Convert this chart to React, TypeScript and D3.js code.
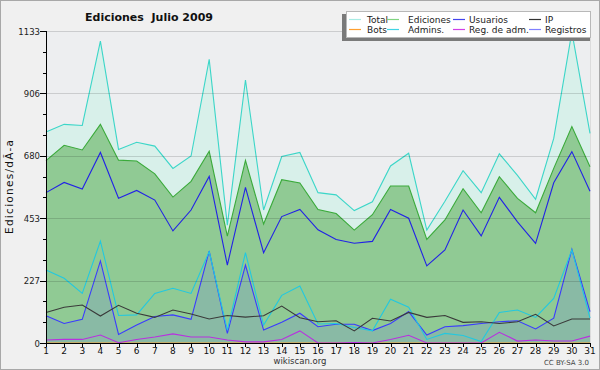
import React from "react";
import * as d3 from "d3";

const days = d3.range(1, 32);
const total = [766, 794, 790, 1096, 703, 729, 715, 634, 679, 1030, 428, 955, 483, 677, 692, 546, 538, 481, 513, 643, 689, 410, 515, 626, 546, 687, 609, 522, 743, 1130, 761];
const ediciones = [662, 718, 701, 794, 664, 661, 614, 530, 587, 696, 388, 663, 432, 593, 581, 485, 470, 410, 466, 570, 570, 376, 447, 560, 473, 604, 525, 473, 634, 786, 640];
const usuarios = [546, 583, 559, 692, 526, 554, 519, 407, 483, 605, 283, 565, 328, 459, 485, 411, 376, 362, 369, 485, 453, 280, 338, 483, 389, 529, 440, 362, 582, 695, 551];
const ip = [111, 130, 138, 98, 137, 108, 93, 120, 105, 87, 100, 94, 99, 134, 92, 77, 81, 44, 90, 80, 111, 93, 100, 75, 77, 71, 77, 104, 62, 87, 87];
const bots = new Array(31).fill(0);
const admins = [265, 235, 180, 370, 100, 102, 180, 199, 180, 332, 47, 328, 65, 173, 207, 69, 71, 56, 44, 159, 130, 13, 35, 27, 5, 111, 120, 93, 162, 338, 90];
const regAdm = [11, 13, 13, 29, 1, 13, 22, 33, 22, 22, 11, 4, 4, 13, 44, 0, 0, 2, 0, 13, 28, 0, 0, 0, 0, 39, 7, 11, 7, 7, 25];
const registros = [99, 71, 86, 298, 31, 65, 96, 102, 86, 334, 35, 283, 47, 75, 108, 59, 68, 68, 45, 71, 114, 29, 59, 63, 71, 77, 81, 51, 90, 340, 114];

const yMax = 1133;
const yTickLabels = ["0", "227", "453", "680", "906", "1133"];
const title = "Ediciones  Julio 2009";
const yLabel = "Ediciones/dÃ-a";

const legendRows = [
  [
    { name: "Total", color: "#a8ece4" },
    { name: "Ediciones", color: "#80d480" },
    { name: "Usuarios", color: "#4444ee" },
    { name: "IP", color: "#333333" },
  ],
  [
    { name: "Bots", color: "#ffa030" },
    { name: "Admins.", color: "#40d4e4" },
    { name: "Reg. de adm.", color: "#d040e8" },
    { name: "Registros", color: "#8080ff" },
  ],
];

const W = 600;
const H = 370;
const left = 46;
const right = 590;
const top = 31;
const bottom = 343;

export default function App() {
  const x = d3.scaleLinear().domain([1, 31]).range([left, right]);
  const y = d3.scaleLinear().domain([0, yMax]).range([bottom, top]);
  const font = "'DejaVu Sans', Verdana, sans-serif";

  const lineOf = (vals: number[]) =>
    d3.line<number>().x((_, i) => x(days[i])).y((v) => y(v))(vals) || "";
  const areaOf = (vals: number[]) =>
    d3.area<number>().x((_, i) => x(days[i])).y0(y(0)).y1((v) => y(v))(vals) || "";

  const majors = d3.range(0, 6).map((k) => (k * yMax) / 5);
  const minors = d3.range(0, 16).map((k) => (k * yMax) / 15);

  const colX = [349, 387, 453, 529];
  const textX = [367, 408, 469, 545];
  const rowY = [19, 29];

  return (
    <svg width={W} height={H} style={{ position: "absolute", left: 0, top: 0, display: "block" }}>
      <rect x={0.5} y={0.5} width={W - 1} height={H - 1} fill="#f0f0f0" stroke="#a8a8a8" />
      <rect x={left} y={top} width={right - left} height={bottom - top} fill="#edeef0" />
      <line x1={right + 0.5} x2={right + 0.5} y1={top} y2={bottom} stroke="#dcdcdc" />

      {/* Total area */}
      <path d={areaOf(total)} fill="#d8f0ea" />
      <path d={lineOf(total)} fill="none" stroke="#3cd6c8" strokeWidth={1.1} />
      {/* Ediciones area */}
      <path d={areaOf(ediciones)} fill="#90ca94" />
      <path d={lineOf(ediciones)} fill="none" stroke="#3aaa3a" strokeWidth={1.1} />
      {/* Usuarios */}
      <path d={lineOf(usuarios)} fill="none" stroke="#2222e6" strokeWidth={1.1} />
      {/* Registros area */}
      <path d={areaOf(registros)} fill="#6a6aff" fillOpacity={0.16} />
      <path d={lineOf(registros)} fill="none" stroke="#3a3aff" strokeWidth={1.1} />
      {/* Admins */}
      <path d={lineOf(admins)} fill="none" stroke="#22c8e0" strokeWidth={1.1} />
      {/* IP */}
      <path d={lineOf(ip)} fill="none" stroke="#3a3a3a" strokeWidth={1.1} />
      {/* Bots */}
      <path d={lineOf(bots)} fill="none" stroke="#ffa030" strokeWidth={1} />
      {/* Reg. de adm. */}
      <path d={lineOf(regAdm)} fill="none" stroke="#b830e0" strokeWidth={1.1} />

      {/* grid */}
      {majors.slice(1).map((v, i) => (
        <line key={"g" + i} x1={left} x2={right} y1={Math.round(y(v)) + 0.5} y2={Math.round(y(v)) + 0.5} stroke="#000" strokeOpacity={0.14} />
      ))}

      {/* axes */}
      <line x1={left + 0.5} x2={left + 0.5} y1={top} y2={bottom + 1} stroke="#000" />
      <line x1={left} x2={right + 1} y1={bottom + 0.5} y2={bottom + 0.5} stroke="#000" />
      {minors.map((v, i) => (
        <line key={"m" + i} x1={left - 3} x2={left} y1={Math.round(y(v)) + 0.5} y2={Math.round(y(v)) + 0.5} stroke="#000" />
      ))}
      {majors.map((v, i) => (
        <g key={"M" + i}>
          <line x1={left - 6} x2={left} y1={Math.round(y(v)) + 0.5} y2={Math.round(y(v)) + 0.5} stroke="#000" />
          <text x={left - 6} y={y(v) + 3.5} textAnchor="end" fontFamily={font} fontSize={8.5} fill="#222">
            {yTickLabels[i]}
          </text>
        </g>
      ))}
      {days.map((d) => (
        <g key={"x" + d}>
          <line x1={Math.round(x(d)) + 0.5} x2={Math.round(x(d)) + 0.5} y1={bottom} y2={bottom + 4} stroke="#000" />
          <text x={x(d)} y={354} textAnchor="middle" fontFamily={font} fontSize={9} fill="#111">
            {d}
          </text>
        </g>
      ))}

      {/* titles */}
      <text x={149} y={21} textAnchor="middle" fontFamily={font} fontSize={11} fontWeight="bold" fill="#111" style={{ whiteSpace: "pre" }}>
        {title}
      </text>
      <text transform={`translate(13,${(top + bottom) / 2}) rotate(-90)`} textAnchor="middle" fontFamily={font} fontSize={10.5} fill="#111" textLength={94} lengthAdjust="spacing">
        {yLabel}
      </text>
      <text x={300} y={364} textAnchor="middle" fontFamily={font} fontSize={8.5} fill="#333">
        wikiscan.org
      </text>
      <text x={589} y={365} textAnchor="end" fontFamily={font} fontSize={7} fill="#444">
        CC BY-SA 3.0
      </text>

      {/* legend */}
      <rect x={342} y={14} width={248} height={27} fill="#7a7a7a" />
      <rect x={346.5} y={11.5} width={244} height={26} fill="#fff" stroke="#b8b8b8" />
      {legendRows.map((row, r) =>
        row.map((it, c) => (
          <g key={it.name}>
            <line x1={colX[c]} x2={colX[c] + 12} y1={rowY[r] + 0.5} y2={rowY[r] + 0.5} stroke={it.color} strokeWidth={1.2} />
            <text x={textX[c]} y={rowY[r] + 3.5} fontFamily={font} fontSize={9} fill="#222">
              {it.name}
            </text>
          </g>
        ))
      )}
    </svg>
  );
}
